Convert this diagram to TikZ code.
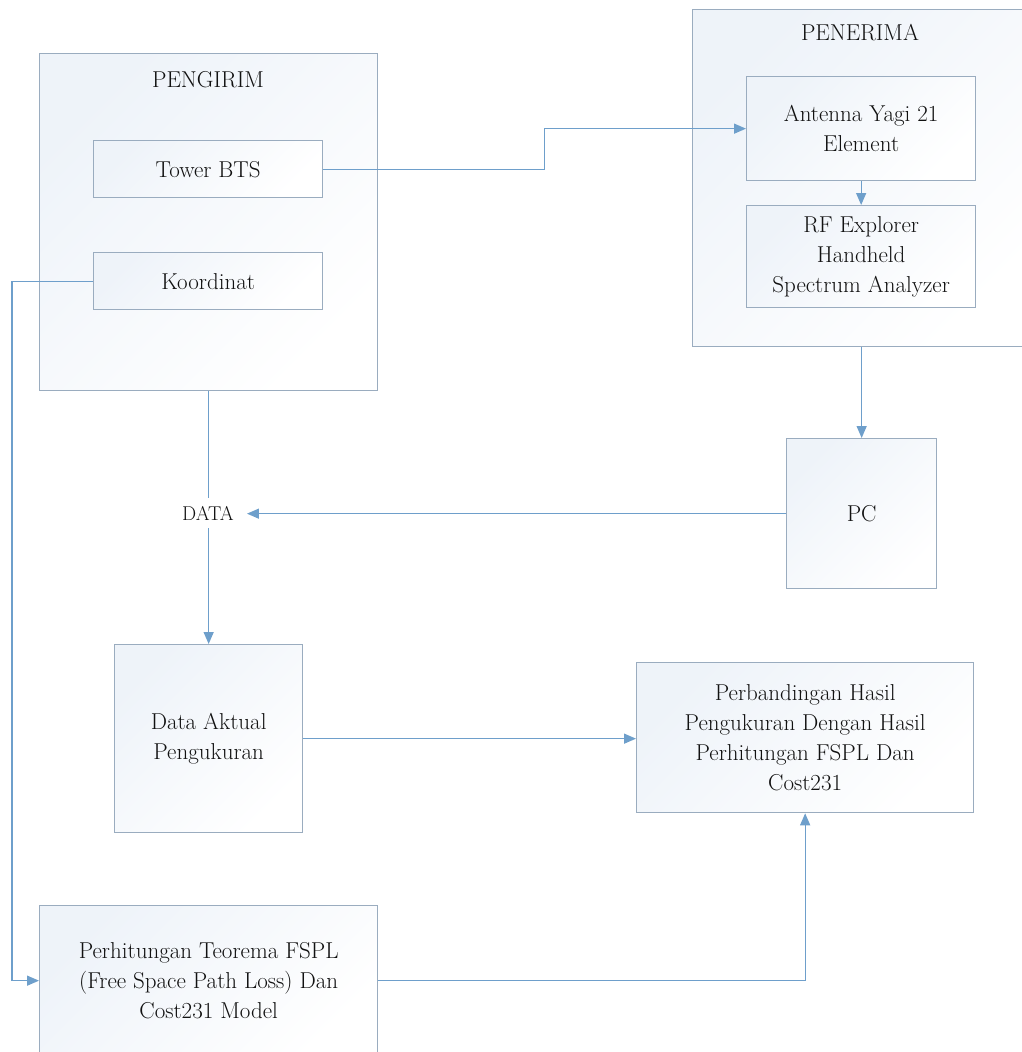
\documentclass[tikz,border=0pt]{standalone}
\usepackage{fontspec}
\usetikzlibrary{arrows.meta}
\definecolor{boxline}{HTML}{9AACBF}
\definecolor{boxtint}{HTML}{EEF3F9}
\definecolor{wirecol}{HTML}{6E9FCB}
\definecolor{inkgray}{HTML}{111111}
\begin{document}
\begin{tikzpicture}[x=1pt, y=-1pt,
  box/.style={draw=boxline, line width=1.3pt, top color=boxtint, bottom color=white,
    shading angle=45, anchor=north west, inner sep=0pt, align=center,
    font=\rmfamily\fontsize{23}{30}\selectfont, text=inkgray},
  title/.style={font=\rmfamily\fontsize{23}{30}\selectfont, text=inkgray},
  link/.style={draw=wirecol, line width=1.3pt},
  flow/.style={link, -{Triangle[length=12pt, width=10pt]}}]
\useasboundingbox[fill=white] (0,0) rectangle (1022,1052);

% sender group
\node[box, minimum width=338pt, minimum height=337pt] (pengirim) at (39,53) {};
\node[title] (pengirimT) at (208,80) {PENGIRIM};
\node[box, minimum width=229pt, minimum height=57pt] (tower) at (93,140) {Tower BTS};
\node[box, minimum width=229pt, minimum height=57pt] (koord) at (93,252) {Koordinat};

% receiver group (runs past the right edge)
\node[box, minimum width=345pt, minimum height=337pt] (penerima) at (692,9) {};
\node[title] (penerimaT) at (860,33) {PENERIMA};
\node[box, minimum width=229pt, minimum height=104pt] (yagi) at (746,76) {Antenna Yagi 21\\Element};
\node[box, minimum width=229pt, minimum height=102pt] (rfx) at (746,205) {RF Explorer\\Handheld\\Spectrum Analyzer};

% processing
\node[box, minimum width=150pt, minimum height=150pt] (pc) at (786,438) {PC};
\node[box, minimum width=188pt, minimum height=188pt] (aktual) at (114,644) {Data Aktual\\Pengukuran};
\node[box, minimum width=337pt, minimum height=150pt] (banding) at (636,662)
  {Perbandingan Hasil\\Pengukuran Dengan Hasil\\Perhitungan FSPL Dan\\Cost231};
\node[box, minimum width=338pt, minimum height=150pt] (hitung) at (39,905)
  {Perhitungan Teorema FSPL\\(Free Space Path Loss) Dan\\Cost231 Model};

% sender to measured data, interrupted by the DATA label
\draw[flow] (pengirim.south) -- (aktual.north);
\node[fill=white, text=inkgray, font=\rmfamily\fontsize{20}{24}\selectfont,
  inner xsep=13pt, inner ysep=8pt] (data) at (208,513) {DATA};

% connectors
\draw[flow] (tower.east) -- ++(221,0) |- (yagi.west);
\draw[flow] (yagi.south) -- (rfx.north);
\draw[flow] (pc.north |- penerima.south) -- (pc.north);
\draw[flow] (pc.west) -- (pc.west -| data.east);
\draw[flow] (aktual.east) -- (aktual.east -| banding.west);
\draw[flow] (koord.west) -- ++(-81,0) |- (hitung.west);
\draw[flow] (hitung.east) -| (banding.south);
\end{tikzpicture}
\end{document}
